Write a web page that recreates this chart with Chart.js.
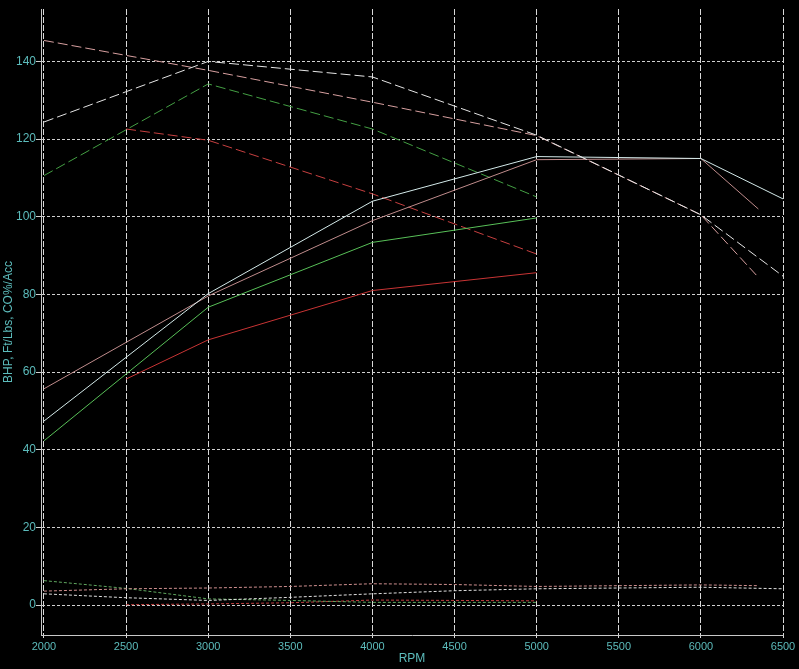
<!DOCTYPE html>
<html>
<head>
<meta charset="utf-8">
<title>Dyno runs</title>
<script src="https://cdn.jsdelivr.net/npm/chart.js@4/dist/chart.umd.min.js"></script>
<style>
    html, body { margin: 0; padding: 0; background: #000; }
    canvas { display: block; }
</style>
</head>
<body>
<canvas id="dynoChart" width="799" height="669"></canvas>
<script>
// Dyno chart - power, torque and CO% for four runs

const xTickValues = [2000, 2500, 3000, 3500, 4000, 4500, 5000, 5500, 6000, 6500];
const yTickValues = [0, 20, 40, 60, 80, 100, 120, 140];

// White run
const rpmWhite = [2000, 3000, 4000, 5000, 6000, 6500];
const bhpWhite = [47.4, 80.2, 104.0, 115.5, 115.0, 104.6];
const torqueWhite = [124.4, 140.0, 136.0, 121.0, 100.5, 84.7];

// Pink run
const rpmPink = [2000, 3000, 4000, 5000, 6000, 6350];
const bhpPink = [55.7, 79.6, 99.0, 114.7, 115.0, 102.0];
const torquePink = [145.4, 137.7, 129.5, 120.9, 100.5, 84.4];

// Green run
const rpmGreen = [2000, 3000, 4000, 5000];
const bhpGreen = [42.3, 76.7, 93.4, 99.7];
const torqueGreen = [110.6, 134.2, 122.6, 105.1];

// Red run
const rpmRed = [2500, 3000, 4000, 5000];
const bhpRed = [58.2, 68.3, 81.0, 85.6];
const torqueRed = [122.6, 119.7, 105.9, 90.4];

// CO% traces
const coRpmWhite = [2000, 2500, 3000, 3500, 4000, 4500, 5000, 5500, 6000, 6500];
const coWhite = [2.9, 1.9, 1.2, 2.0, 2.9, 3.7, 4.2, 4.4, 4.6, 4.2];
const coRpmPink = [2000, 2500, 3000, 3500, 4000, 4500, 5000, 5500, 6000, 6350];
const coPink = [3.6, 4.2, 4.4, 4.8, 5.5, 5.3, 4.8, 5.0, 5.2, 5.0];
const coRpmGreen = [2000, 2500, 3000, 3500, 4000, 4500, 5000];
const coGreen = [6.3, 4.3, 1.6, 1.2, 0.7, 0.7, 0.7];
const coRpmRed = [2500, 3000, 3500, 4000, 4500, 5000];
const coRed = [0.1, 0.3, 0.6, 1.3, 1.2, 1.1];

const SOLID = [];
const DASHED = [10, 4];
const DOTTED = [3, 2];
const TEXT_COLOR = '#5cbcbc';
const FONT_FAMILY = 'Arial, "Liberation Sans", sans-serif';

document.addEventListener('DOMContentLoaded', function() {
    initializeChart();
});

function makeSeries(label, rpm, values, color, dash) {
    return {
        label: label,
        data: rpm.map((r, i) => ({ x: r, y: values[i] })),
        borderColor: color,
        borderWidth: 1,
        borderDash: dash,
        pointRadius: 0,
        tension: 0,
        fill: false
    };
}

function initializeChart() {
    const ctx = document.getElementById('dynoChart');
    if (!ctx) return;

    new Chart(ctx, {
        type: 'line',
        data: {
            datasets: [
                makeSeries('BHP white', rpmWhite, bhpWhite, '#d4eaea', SOLID),
                makeSeries('Torque white', rpmWhite, torqueWhite, '#e6e6e6', DASHED),
                makeSeries('BHP pink', rpmPink, bhpPink, '#c08c8c', SOLID),
                makeSeries('Torque pink', rpmPink, torquePink, '#d8a0a0', DASHED),
                makeSeries('BHP green', rpmGreen, bhpGreen, '#58c058', SOLID),
                makeSeries('Torque green', rpmGreen, torqueGreen, '#44a044', DASHED),
                makeSeries('BHP red', rpmRed, bhpRed, '#c83434', SOLID),
                makeSeries('Torque red', rpmRed, torqueRed, '#c84040', DASHED),
                makeSeries('CO white', coRpmWhite, coWhite, '#e0e0e0', DOTTED),
                makeSeries('CO pink', coRpmPink, coPink, '#d09090', DOTTED),
                makeSeries('CO green', coRpmGreen, coGreen, '#60a860', DOTTED),
                makeSeries('CO red', coRpmRed, coRed, '#c04040', DOTTED)
            ]
        },
        options: {
            responsive: false,
            animation: false,
            layout: {
                padding: { top: 9, right: 16, left: 0, bottom: 0 }
            },
            plugins: {
                legend: { display: false },
                tooltip: { enabled: false }
            },
            scales: {
                x: {
                    type: 'linear',
                    min: 1982,
                    max: 6500,
                    afterBuildTicks: function(axis) {
                        axis.ticks = xTickValues.map(v => ({ value: v }));
                    },
                    afterFit: function(axis) {
                        axis.height = 34;
                    },
                    grid: {
                        color: '#d8d8d8',
                        tickColor: '#d8d8d8',
                        tickLength: 3,
                        lineWidth: 1
                    },
                    border: {
                        display: true,
                        color: '#c8c8c8',
                        dash: [6, 2]
                    },
                    ticks: {
                        color: TEXT_COLOR,
                        padding: 2,
                        maxRotation: 0,
                        callback: function(value) { return String(value); },
                        font: { family: FONT_FAMILY, size: 11 }
                    },
                    title: {
                        display: true,
                        text: 'RPM',
                        color: TEXT_COLOR,
                        padding: { top: 0, bottom: 3 },
                        font: { family: FONT_FAMILY, size: 12 }
                    }
                },
                y: {
                    type: 'linear',
                    min: -7.7,
                    max: 153.5,
                    afterBuildTicks: function(axis) {
                        axis.ticks = yTickValues.map(v => ({ value: v }));
                    },
                    afterFit: function(axis) {
                        axis.width = 41;
                    },
                    grid: {
                        color: '#d0d0d0',
                        tickColor: '#d0d0d0',
                        tickLength: 5,
                        lineWidth: 1
                    },
                    border: {
                        display: true,
                        color: '#c8c8c8',
                        dash: [3, 2]
                    },
                    ticks: {
                        color: TEXT_COLOR,
                        padding: 0,
                        callback: function(value) { return String(value); },
                        font: { family: FONT_FAMILY, size: 12 }
                    },
                    title: {
                        display: true,
                        text: 'BHP, Ft/Lbs, CO%/Acc',
                        color: TEXT_COLOR,
                        padding: { top: 1, bottom: 0 },
                        font: { family: FONT_FAMILY, size: 12 }
                    }
                }
            }
        }
    });
}
</script>
</body>
</html>
